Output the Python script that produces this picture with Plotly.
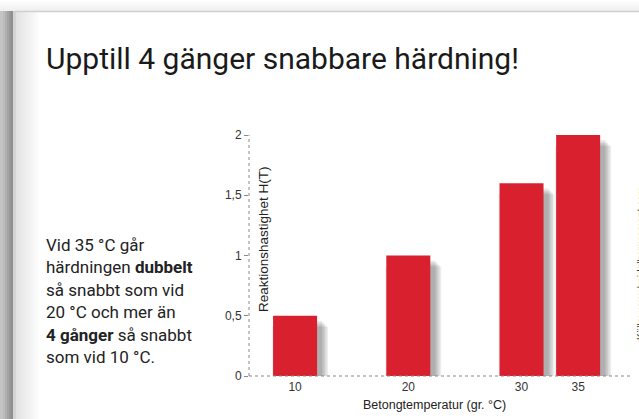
import plotly.graph_objects as go

# ---- data ----
temps = [10, 20, 30, 35]
rates = [0.5, 1.0, 1.6, 2.0]
y_ticks = [0, 0.5, 1, 1.5, 2]
title_text = "Upptill 4 gänger snabbare härdning!"
side_lines = [
    "Vid 35 °C går",
    "härdningen <b>dubbelt</b>",
    "så snabbt som vid",
    "20 °C och mer än",
    "<b>4 gånger</b> så snabbt",
    "som vid 10 °C.",
]
x_title = "Betongtemperatur (gr. °C)"
y_title = "Reaktionshastighet H(T)"
source_text = "Källa: www.heidelbergcement.com"

# ---- layout geometry (pixels) ----
W, H = 639, 419
L, R, T, B = 249, 630, 135, 376
XR = [5.93, 39.58]
YR = [0, 2]
ux = (R - L) / (XR[1] - XR[0])   # px per x unit
uy = (B - T) / (YR[1] - YR[0])   # px per y unit


def px(x):
    return (x - L) / (R - L)


def py(y):
    return (B - y) / (B - T)


BAR_W = 44 / ux
RED = "#d8202f"

fig = go.Figure()

# soft shadows behind bars
for k in range(5):
    spread = 1.5 * k
    w = BAR_W + 2 * spread / ux
    fig.add_trace(go.Bar(
        x=temps, y=rates,
        base=-(5 + spread) / uy,
        width=w,
        offset=-w / 2 + 5 / ux,
        marker=dict(color="rgba(0,0,0,0.07)", line=dict(width=0)),
        hoverinfo="skip", showlegend=False,
    ))

fig.add_trace(go.Bar(
    x=temps, y=rates, width=BAR_W,
    marker=dict(color=RED, line=dict(width=0)),
    showlegend=False,
))

shapes = []
# left gray strip (page background)
strip = [(0, "#c4c4c4"), (3, "#bcbcbc"), (5, "#b0b0b0"), (7, "#a4a4a4"),
         (9, "#989898"), (11, "#8e8e8e"), (13, "#d6d6d6"), (14, "#cfcfcf")]
for i, (x0, c) in enumerate(strip):
    x1 = strip[i + 1][0] if i + 1 < len(strip) else 15
    shapes.append(dict(type="rect", xref="paper", yref="paper", layer="below",
                       x0=px(x0), x1=px(x1), y0=py(H), y1=py(11),
                       fillcolor=c, line=dict(width=0)))
# card inner shadow on the left
for j in range(12):
    g = int(0xe2 + (0xff - 0xe2) * j / 12)
    c = "#%02x%02x%02x" % (g, g, g)
    shapes.append(dict(type="rect", xref="paper", yref="paper", layer="below",
                       x0=px(15 + 2 * j), x1=px(17 + 2 * j), y0=py(H), y1=py(12),
                       fillcolor=c, line=dict(width=0)))
# top strip above the card
for j in range(5):
    g = int(0xf0 + (0xff - 0xf0) * j / 5)
    c = "#%02x%02x%02x" % (g, g, g)
    shapes.append(dict(type="rect", xref="paper", yref="paper", layer="below",
                       x0=px(0), x1=px(W), y0=py(11 - 2 * j), y1=py(9 - 2 * j),
                       fillcolor=c, line=dict(width=0)))
# card border
shapes.append(dict(type="line", xref="paper", yref="paper", layer="below",
                   x0=px(15), x1=px(W), y0=py(11.5), y1=py(11.5),
                   line=dict(color="#cfcfcf", width=1.5)))
shapes.append(dict(type="line", xref="paper", yref="paper", layer="below",
                   x0=px(15), x1=px(15), y0=py(11.5), y1=py(H),
                   line=dict(color="#d2d2d2", width=1.5)))
# dotted axis lines
shapes.append(dict(type="line", xref="paper", yref="paper",
                   x0=0, x1=1, y0=0, y1=0,
                   line=dict(color="#8a8a8a", width=1, dash="dot")))
shapes.append(dict(type="line", xref="paper", yref="paper",
                   x0=0, x1=0, y0=0, y1=1,
                   line=dict(color="#8a8a8a", width=1, dash="dot")))

annotations = []
annotations.append(dict(
    text=title_text, xref="paper", yref="paper",
    x=px(44), y=py(58), xanchor="left", yanchor="middle", showarrow=False,
    font=dict(family="Roboto", size=30, color="#1a1a1a")))
for i, line in enumerate(side_lines):
    annotations.append(dict(
        text=line, xref="paper", yref="paper",
        x=px(44), y=py(245 + 22.4 * i), xanchor="left", yanchor="middle",
        showarrow=False, align="left",
        font=dict(family="Roboto", size=17, color="#222222")))
annotations.append(dict(
    text=y_title, xref="paper", yref="paper",
    x=px(263), y=py(239), xanchor="center", yanchor="middle",
    textangle=-90, showarrow=False,
    font=dict(family="Liberation Sans", size=13.5, color="#222222")))
annotations.append(dict(
    text=x_title, xref="paper", yref="paper",
    x=px(434), y=py(405), xanchor="center", yanchor="middle",
    showarrow=False,
    font=dict(family="Liberation Sans", size=12.5, color="#222222")))
annotations.append(dict(
    text=source_text, xref="paper", yref="paper",
    x=px(641), y=py(264), xanchor="center", yanchor="middle",
    textangle=-90, showarrow=False,
    font=dict(family="Liberation Sans", size=10, color="#333333")))

fig.update_layout(
    width=W, height=H,
    margin=dict(l=L, r=W - R, t=T, b=H - B, pad=0),
    paper_bgcolor="white", plot_bgcolor="rgba(0,0,0,0)",
    barmode="overlay",
    separators=", ",
    shapes=shapes,
    annotations=annotations,
    showlegend=False,
    xaxis=dict(range=XR, tickvals=temps, showgrid=False, zeroline=False,
               showline=False, ticks="", ticklabelstandoff=2,
               tickfont=dict(family="Liberation Sans", size=12, color="#333333"),
               fixedrange=True),
    yaxis=dict(range=YR, tickvals=y_ticks, showgrid=False, zeroline=False,
               showline=False, ticks="outside", ticklen=4, tickcolor="#8a8a8a",
               tickwidth=1,
               tickfont=dict(family="Liberation Sans", size=12, color="#333333"),
               fixedrange=True),
)

fig.write_html(
    "out.html",
    config={"displayModeBar": False},
    post_script="document.body.style.margin='0';document.body.style.overflow='hidden';",
)
